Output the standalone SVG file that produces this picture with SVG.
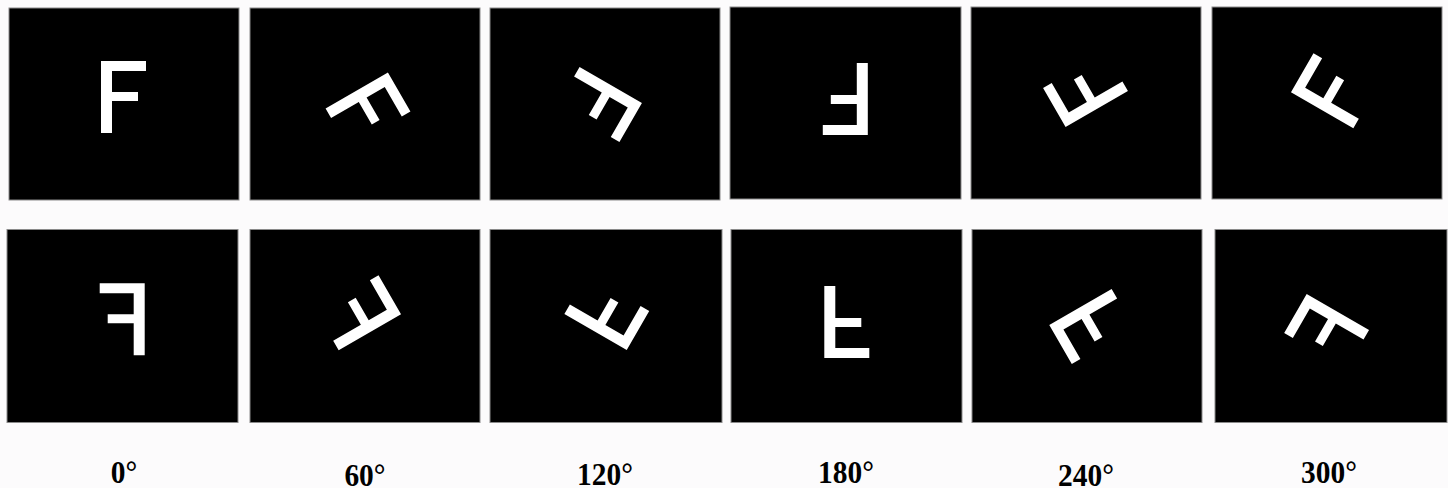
<svg xmlns="http://www.w3.org/2000/svg" xmlns:xlink="http://www.w3.org/1999/xlink" width="1448" height="488" viewBox="0 0 1448 488">
  <style>
    .panel { fill: #000000; stroke: #8a8a8a; stroke-width: 1; }
    .glyph { fill: #ffffff; }
    .label { font-family: "Liberation Serif", "Times New Roman", serif; font-weight: bold; font-size: 32px; fill: #000000; text-anchor: middle; }
  </style>
  <defs>
    <path id="F" d="M-22.5,-36H22.5V-26H-11.5V-5H14.5V4H-11.5V36H-22.5Z"/>
  </defs>
  <rect x="0" y="0" width="1448" height="488" fill="#fcfbfc"/>

  <g id="row1">
    <g id="r1-0">
      <rect class="panel" x="9" y="8" width="230" height="192"/>
      <use class="glyph" xlink:href="#F" href="#F" transform="translate(123.5,97)"/>
    </g>
    <g id="r1-60">
      <rect class="panel" x="250" y="8" width="230" height="192"/>
      <use class="glyph" xlink:href="#F" href="#F" transform="translate(368,110) rotate(60)"/>
    </g>
    <g id="r1-120">
      <rect class="panel" x="490" y="8" width="230" height="192"/>
      <use class="glyph" xlink:href="#F" href="#F" transform="translate(599.5,104.5) rotate(120)"/>
    </g>
    <g id="r1-180">
      <rect class="panel" x="730" y="7" width="231" height="192"/>
      <use class="glyph" xlink:href="#F" href="#F" transform="translate(845.3,98.9) rotate(180)"/>
    </g>
    <g id="r1-240">
      <rect class="panel" x="971" y="7" width="230" height="192"/>
      <use class="glyph" xlink:href="#F" href="#F" transform="translate(1085.5,89.5) rotate(240)"/>
    </g>
    <g id="r1-300">
      <rect class="panel" x="1212" y="7" width="230" height="192"/>
      <use class="glyph" xlink:href="#F" href="#F" transform="translate(1333.4,90.8) rotate(300)"/>
    </g>
  </g>

  <g id="row2">
    <g id="r2-0">
      <rect class="panel" x="7" y="229.5" width="231" height="193"/>
      <use class="glyph" xlink:href="#F" href="#F" transform="translate(122.2,319.2) scale(-1,1)"/>
    </g>
    <g id="r2-60">
      <rect class="panel" x="250" y="229.5" width="230" height="193"/>
      <use class="glyph" xlink:href="#F" href="#F" transform="translate(358.6,312.8) rotate(60) scale(-1,1)"/>
    </g>
    <g id="r2-120">
      <rect class="panel" x="490" y="229.5" width="232" height="193"/>
      <use class="glyph" xlink:href="#F" href="#F" transform="translate(606.8,312.5) rotate(120) scale(-1,1)"/>
    </g>
    <g id="r2-180">
      <rect class="panel" x="731" y="229.5" width="231" height="193"/>
      <use class="glyph" xlink:href="#F" href="#F" transform="translate(846.8,322) rotate(180) scale(-1,1)"/>
    </g>
    <g id="r2-240">
      <rect class="panel" x="972" y="229.5" width="230" height="193"/>
      <use class="glyph" xlink:href="#F" href="#F" transform="translate(1091.7,326.5) rotate(240) scale(-1,1)"/>
    </g>
    <g id="r2-300">
      <rect class="panel" x="1215" y="229.5" width="232" height="193"/>
      <use class="glyph" xlink:href="#F" href="#F" transform="translate(1326.6,331.5) rotate(300) scale(-1,1)"/>
    </g>
  </g>

  <g id="labels">
    <text class="label" transform="translate(124,483) scale(0.92,1)">0°</text>
    <text class="label" transform="translate(365,485.5) scale(0.92,1)">60°</text>
    <text class="label" transform="translate(605,485) scale(0.92,1)">120°</text>
    <text class="label" transform="translate(846,483) scale(0.92,1)">180°</text>
    <text class="label" transform="translate(1086,485.5) scale(0.92,1)">240°</text>
    <text class="label" transform="translate(1329,483) scale(0.92,1)">300°</text>
  </g>
</svg>
